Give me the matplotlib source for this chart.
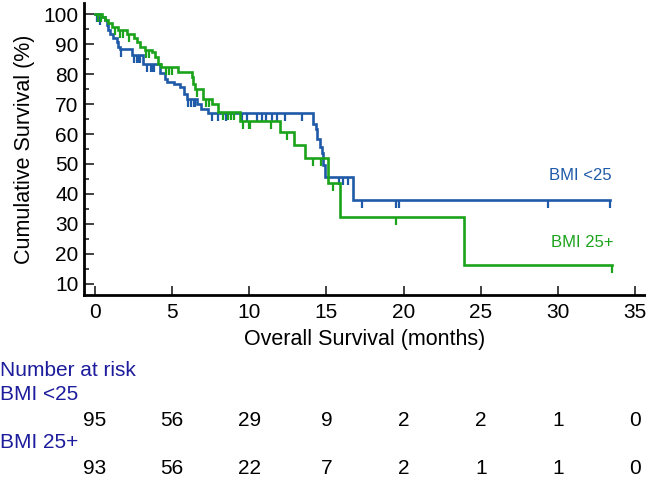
import numpy as np
import matplotlib
matplotlib.use("Agg")
import matplotlib.pyplot as plt
from matplotlib.transforms import blended_transform_factory

plt.rcParams['font.family'] = ['Liberation Sans', 'DejaVu Sans']

# ---------------- data ----------------
# BMI <25 : event times (months) and survival (%) after each drop
bmi_lo_times = [0.3, 0.65, 0.76, 0.86, 0.97, 1.19, 1.41, 1.51, 1.62, 2.38, 3.1,
                4.2, 4.55, 4.65, 5.1, 5.5, 5.75, 5.95, 6.6, 6.9, 7.3,
                14.1, 14.3, 14.4, 14.6, 14.7, 14.8, 14.9, 16.7]
bmi_lo_surv = [99, 98, 96.3, 94.7, 93.5, 91.9, 90.7, 89.1, 88.5, 86.3, 83.5,
               80.2, 78.5, 77.4, 76.8, 75.7, 73.5, 71.8, 70.1, 68.5, 67.0,
               63.5, 61.8, 58.5, 55.6, 53.5, 49.5, 45.8, 38.0]
bmi_lo_censor = [0.1, 0.35, 1.7, 2.5, 2.7, 2.8, 2.9, 3.4, 3.6, 3.7, 3.8, 6.0, 6.2,
                 6.4, 6.5, 7.6, 8.0, 8.5, 9.5, 9.85, 10.5, 10.8, 11.1, 11.5, 11.8,
                 12.3, 13.4, 15.8, 16.1, 16.4, 17.3, 19.5, 19.7, 29.35, 33.4]
bmi_lo_end = 33.4

# BMI 25+
bmi_hi_times = [0.45, 0.65, 0.86, 1.08, 1.51, 2.05, 2.5, 2.7, 2.9, 3.24, 3.67,
                3.9, 4.1, 4.3, 5.4, 6.27, 6.37, 6.48, 7.0, 7.56, 8.0,
                9.4, 12.0, 12.9, 13.6, 15.1, 15.9, 23.9]
bmi_hi_surv = [99, 98, 96.9, 95.8, 94.7, 93.5, 91.9, 90.7, 89.1, 88.0, 87.4,
               85.7, 83.5, 82.4, 80.7, 79.0, 76.8, 75.1, 71.8, 70.0, 67.2,
               64.5, 60.6, 56.5, 52.0, 43.6, 32.4, 16.3]
bmi_hi_censor = [0.2, 0.4, 1.3, 1.6, 1.8, 2.2, 3.3, 3.5, 4.6, 4.8, 5.0, 6.6,
                 7.2, 7.4, 8.3, 8.6, 8.8, 9.0, 9.6, 9.95, 10.05, 11.4, 12.45,
                 14.1, 14.65, 15.4, 19.5, 33.5]
bmi_hi_end = 33.5

group_names = ["BMI <25", "BMI 25+"]
risk_times = [0, 5, 10, 15, 20, 25, 30, 35]
risk_lo = [95, 56, 29, 9, 2, 2, 1, 0]
risk_hi = [93, 56, 22, 7, 2, 1, 1, 0]

x_ticks = [0, 5, 10, 15, 20, 25, 30, 35]
y_ticks = [10, 20, 30, 40, 50, 60, 70, 80, 90, 100]

BLUE = "#1f5aa8"
GREEN = "#1ca31c"
NAVY = "#1c1c9c"

# ---------------- figure ----------------
fig = plt.figure(figsize=(6.46, 4.83), dpi=100)
ax = fig.add_axes([84/646, 1-295/483, (645-84)/646, (295-3)/483])

tick_marker = [(0, 0), (0, -1)]


def km(ax, times, surv, censor, end, color):
    t = np.concatenate([[0.0], np.asarray(times, float), [end]])
    s = np.concatenate([[100.0], np.asarray(surv, float), [surv[-1]]])
    ax.step(t, s, where='post', color=color, lw=1.9, solid_joinstyle='miter')
    c = np.asarray(censor, float)
    idx = np.searchsorted(t[:-1], c, side='right') - 1
    ax.plot(c, s[idx], linestyle='none', marker=tick_marker, markersize=12,
            markeredgewidth=1.6, color=color)


km(ax, bmi_lo_times, bmi_lo_surv, bmi_lo_censor, bmi_lo_end, BLUE)
km(ax, bmi_hi_times, bmi_hi_surv, bmi_hi_censor, bmi_hi_end, GREEN)

ax.set_xlim(-0.71, 35.64)
ax.set_ylim(6.3, 103.7)
ax.set_xticks(x_ticks)
ax.set_yticks(y_ticks)
ax.set_yticks(np.arange(15, 100, 10), minor=True)
for s in ['top', 'right']:
    ax.spines[s].set_visible(False)
for s in ['left', 'bottom']:
    ax.spines[s].set_linewidth(2.0)
ax.tick_params(axis='both', direction='in', labelsize=15, width=1.3,
               colors='#333333', labelcolor='black')
ax.tick_params(axis='y', which='major', length=7, pad=4)
ax.tick_params(axis='y', which='minor', length=3.5, width=1.3, direction='in', colors='#333333')
ax.tick_params(axis='x', which='major', length=6.5, pad=6)

ax.set_xlabel("Overall Survival (months)", fontsize=15.5, labelpad=5)
ax.set_ylabel("Cumulative Survival (%)", fontsize=15.5, labelpad=6)

ax.text(33.5, 46, group_names[0], color=BLUE, fontsize=12, ha='right', va='center')
ax.text(33.6, 23.7, group_names[1], color=GREEN, fontsize=12, ha='right', va='center')

# ---------------- number at risk ----------------
tr = blended_transform_factory(ax.transData, fig.transFigure)
fig.text(0.0, 1-370/483, "Number at risk", color=NAVY, fontsize=15, ha='left', va='center')
fig.text(0.0, 1-395/483, group_names[0], color=NAVY, fontsize=15, ha='left', va='center')
fig.text(0.0, 1-443/483, group_names[1], color=NAVY, fontsize=15, ha='left', va='center')
for t, n in zip(risk_times, risk_lo):
    ax.text(t, 1-420/483, str(n), transform=tr, fontsize=15, ha='center', va='center', clip_on=False)
for t, n in zip(risk_times, risk_hi):
    ax.text(t, 1-468/483, str(n), transform=tr, fontsize=15, ha='center', va='center', clip_on=False)

fig.savefig("out.png", dpi=100)
